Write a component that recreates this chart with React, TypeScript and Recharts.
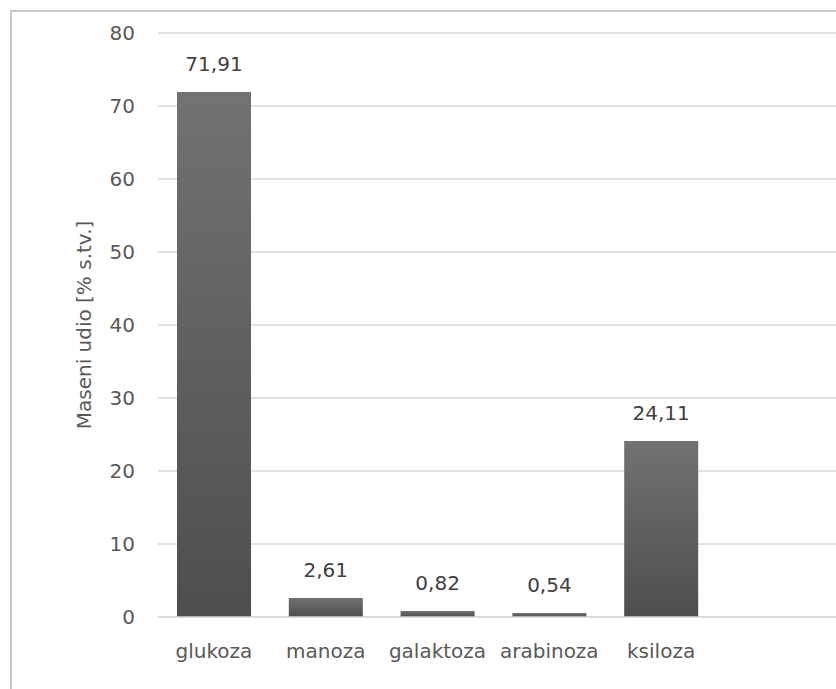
import React from 'react';
import { BarChart, Bar, XAxis, YAxis, CartesianGrid, LabelList } from 'recharts';

const categories = ['glukoza', 'manoza', 'galaktoza', 'arabinoza', 'ksiloza'];
const values = [71.91, 2.61, 0.82, 0.54, 24.11];
const yTicks = [0, 10, 20, 30, 40, 50, 60, 70, 80];
const yAxisTitle = 'Maseni udio [% s.tv.]';

const data = categories.map((name, i) => ({ name, value: values[i] }));

const FONT = '"DejaVu Sans", sans-serif';

const fmt = (v: any) => String(v).replace('.', ',');

const YTitle = (props: any) => {
  const vb = props.viewBox || {};
  const cx = vb.x + 76;
  const cy = vb.y + vb.height / 2;
  return (
    <text
      x={cx}
      y={cy}
      transform={`rotate(-90, ${cx}, ${cy})`}
      textAnchor="middle"
      dominantBaseline="central"
      fill="#595959"
      fontFamily={FONT}
      fontSize={20}
    >
      {yAxisTitle}
    </text>
  );
};

export default function App() {
  return (
    <>
      <style>{`html, body { margin: 0; padding: 0; overflow: hidden; }`}</style>
      <div
        style={{
          position: 'relative',
          width: 836,
          height: 689,
          overflow: 'hidden',
          background: '#fff',
        }}
      >
        <div
          style={{
            position: 'absolute',
            left: 10,
            top: 10,
            width: 2000,
            height: 2000,
            border: '2px solid #c8c8c8',
          }}
        />
        <div style={{ position: 'absolute', left: 8, top: 8, width: 900, height: 681 }}>
          <BarChart
            width={900}
            height={681}
            data={data}
            margin={{ top: 25, right: 0, bottom: 0, left: 0 }}
            barCategoryGap="17%"
          >
            <defs>
              <linearGradient id="barGrad" x1="0" y1="0" x2="0" y2="1">
                <stop offset="0%" stopColor="#727272" />
                <stop offset="100%" stopColor="#4e4e4e" />
              </linearGradient>
            </defs>
            <CartesianGrid vertical={false} stroke="#d9d9d9" strokeWidth={1.5} />
            <XAxis
              dataKey="name"
              height={72}
              interval={0}
              padding={{ left: 0, right: 191 }}
              tickLine={false}
              tickSize={0}
              tickMargin={27}
              axisLine={{ stroke: '#d9d9d9', strokeWidth: 1.5 }}
              tick={{ fill: '#595959', fontSize: 20, fontFamily: FONT }}
            />
            <YAxis
              width={150}
              domain={[0, 80]}
              ticks={yTicks}
              interval={0}
              axisLine={false}
              tickLine={false}
              tickSize={0}
              tickMargin={23}
              tick={{ fill: '#595959', fontSize: 20, fontFamily: FONT }}
              label={{ content: YTitle }}
            />
            <Bar dataKey="value" fill="url(#barGrad)" isAnimationActive={false}>
              <LabelList
                dataKey="value"
                position="top"
                offset={21}
                formatter={fmt}
                fill="#404040"
                fontSize={20}
                fontFamily={FONT}
              />
            </Bar>
          </BarChart>
        </div>
      </div>
    </>
  );
}
